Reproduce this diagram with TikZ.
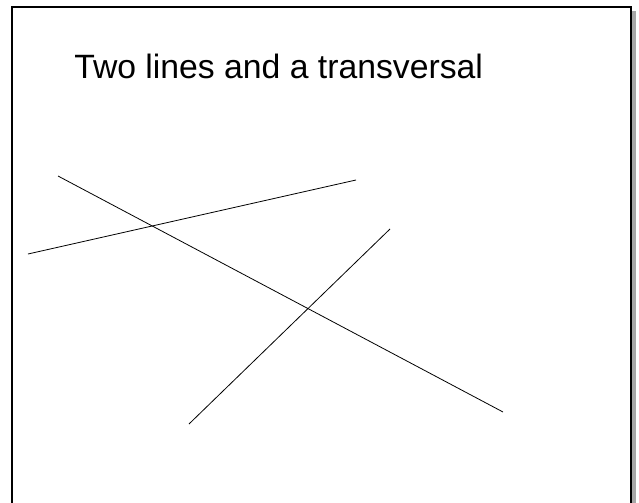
\documentclass[tikz,border=0pt]{standalone}
\usepackage{fontspec}
\setmainfont{Liberation Sans}
\begin{document}
\begin{tikzpicture}[x=0.75pt,y=-0.75pt]
  \useasboundingbox (0,0) rectangle (639,503);
  \clip (0,0) rectangle (639,503);
  % slide frame with shadow
  \fill[gray!85!black!60] (17,11) rectangle (636,520);
  \draw[line width=1.5pt,fill=white] (12,7) rectangle (631,515);
  \node[anchor=base west,inner sep=0pt,font=\fontsize{25.3}{30}\selectfont] (title) at (74,79) {Two lines and a transversal};
  % end points of the lines
  \coordinate (a1) at (28,254);
  \coordinate (a2) at (356,180);
  \coordinate (t1) at (58,176);
  \coordinate (t2) at (503,412);
  \coordinate (b1) at (189,424);
  \coordinate (b2) at (390,229);
  \foreach \p/\q in {a1/a2, t1/t2, b1/b2} {
    \draw[line width=0.6pt] (\p) -- (\q);
  }
\end{tikzpicture}
\end{document}
